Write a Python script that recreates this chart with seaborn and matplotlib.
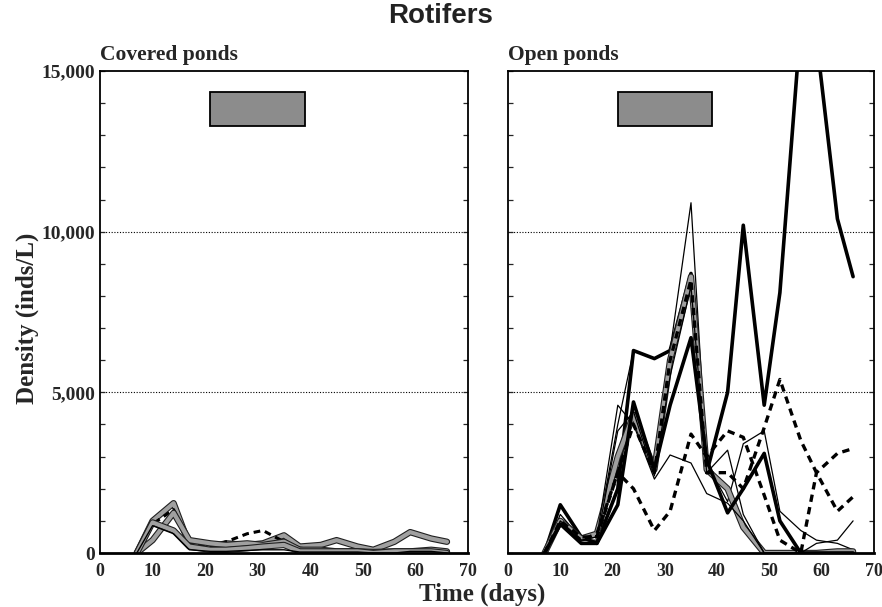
import matplotlib
matplotlib.use("Agg")
import matplotlib.pyplot as plt
import matplotlib.patheffects as pe
from matplotlib.patches import Rectangle
from matplotlib.ticker import MultipleLocator, FuncFormatter
import seaborn as sns
import pandas as pd

# ---------------- data ----------------
days = [7, 10, 14, 17, 21, 24, 28, 31, 35, 38, 42, 45, 49, 52, 56, 59, 63, 66]

# Covered ponds
cov_1 = [0, 1000, 1550, 250, 200, 300, 250, 300, 550, 200, 250, 400, 200, 100, 350, 650, 450, 350]
cov_2 = [0, 900, 1350, 300, 200, 350, 600, 700, 350, 150, 100, 50, 50, 0, 0, 0, 0, 0]
cov_3 = [0, 400, 1250, 400, 300, 250, 300, 250, 350, 100, 100, 50, 50, 30, 50, 50, 100, 50]
cov_4 = [0, 950, 700, 200, 100, 100, 150, 200, 250, 50, 50, 50, 50, 0, 50, 50, 50, 0]
cov_5 = [0, 850, 600, 100, 50, 50, 80, 100, 100, 30, 30, 30, 30, 0, 0, 50, 50, 0]

# Open ponds
open_1 = [0, 1500, 500, 300, 2000, 6300, 6050, 6300, 8700, 2500, 5000, 10200, 4600, 8100, 16500, 16000, 10400, 8600]
open_2 = [0, 1200, 450, 500, 4000, 6300, 6050, 6300, 10900, 2800, 1600, 3400, 3800, 1300, 700, 400, 300, 100]
open_3 = [0, 1000, 450, 600, 3000, 4300, 2600, 6000, 8600, 2600, 2000, 800, 0, 0, 0, 0, 50, 50]
open_4 = [0, 900, 300, 300, 1500, 4700, 2600, 4600, 6700, 2900, 1250, 2000, 3100, 1000, 0, 0, 0, 0]
open_5 = [0, 1000, 500, 500, 2500, 2000, 700, 1300, 3700, 3000, 3800, 3600, 1800, 400, 0, 2500, 3100, 3250]
open_6 = [0, 900, 400, 600, 2500, 4000, 2500, 6000, 8500, 2500, 2500, 2000, 3900, 5400, 3500, 2500, 1300, 1750]
open_7 = [0, 1000, 400, 500, 4600, 4000, 2300, 3050, 2800, 1850, 1550, 1000, 0, 0, 0, 0, 0, 0]
open_8 = [0, 900, 400, 400, 3800, 4400, 2400, 5500, 8300, 2500, 3200, 1200, 0, 0, 0, 300, 400, 1000]

covered = [cov_1, cov_2, cov_3, cov_4, cov_5]
opened = [open_1, open_2, open_3, open_4, open_5, open_6, open_7, open_8]

# style per series: (kind, linewidth, linestyle)
cov_styles = [("gray", 3.0, "-"), ("black", 2.2, "--"), ("gray", 3.0, "-"), ("gray", 3.0, "-"), ("black", 1.0, "-")]
open_styles = [("black", 2.6, "-"), ("black", 0.9, "-"), ("gray", 3.0, "-"), ("black", 2.6, "-"),
               ("black", 2.4, "--"), ("black", 2.4, "--"), ("black", 0.9, "-"), ("black", 0.9, "-")]

shade_x = [21, 39]
shade_y = [13300, 14350]

# ---------------- figure ----------------
sns.set_theme(style="white")
plt.rcParams["font.family"] = ["Liberation Serif", "DejaVu Serif"]

fig = plt.figure(figsize=(8.82, 6.07), dpi=100)
axL = fig.add_axes([100 / 882, 54 / 607, 368 / 882, 482 / 607])
axR = fig.add_axes([508 / 882, 54 / 607, 366 / 882, 482 / 607])


def draw(ax, series, styles):
    for vals, (col, lw, ls) in zip(series, styles):
        df = pd.DataFrame({"day": days, "density": vals})
        if col == "gray":
            sns.lineplot(data=df, x="day", y="density", ax=ax, color="#a0a0a0", lw=lw,
                         linestyle=ls,
                         path_effects=[pe.Stroke(linewidth=lw + 1.6, foreground="#202020"), pe.Normal()])
        else:
            line = sns.lineplot(data=df, x="day", y="density", ax=ax, color="black", lw=lw).lines[-1]
            if ls == "--":
                line.set_dashes([2.2, 1.6])


for ax, series, styles, title in [(axL, covered, cov_styles, "Covered ponds"),
                                   (axR, opened, open_styles, "Open ponds")]:
    draw(ax, series, styles)
    ax.set_xlim(0, 70)
    ax.set_ylim(0, 15000)
    ax.set_xlabel("")
    ax.set_ylabel("")
    for y in (5000, 10000):
        ax.axhline(y, color="black", lw=0.8, ls=(0, (1, 1.5)), zorder=0)
    ax.add_patch(Rectangle((shade_x[0], shade_y[0]), shade_x[1] - shade_x[0], shade_y[1] - shade_y[0],
                           facecolor="#8c8c8c", edgecolor="black", lw=1.3, zorder=3))
    ax.xaxis.set_major_locator(MultipleLocator(10))
    ax.yaxis.set_major_locator(MultipleLocator(5000))
    ax.yaxis.set_minor_locator(MultipleLocator(1000))
    ax.tick_params(axis="x", which="major", direction="in", length=7, width=1.2, top=False,
                   labelsize=13, pad=7)
    ax.tick_params(axis="y", which="both", direction="in", length=3.5, width=0.9, left=True, right=True,
                   labelsize=14)
    for s in ax.spines.values():
        s.set_color("black")
        s.set_linewidth(1.3)
    ax.spines["bottom"].set_linewidth(2.0)
    ax.text(0, 1.012, title, transform=ax.transAxes, ha="left", va="bottom",
            fontsize=15.5, fontweight="bold")

axL.yaxis.set_major_formatter(FuncFormatter(lambda v, p: f"{int(v):,}"))
axR.tick_params(axis="y", labelleft=False)
for lab in axL.get_yticklabels() + axL.get_xticklabels() + axR.get_xticklabels():
    lab.set_fontweight("bold")

fig.text(441 / 882, 1 - 16 / 607, "Rotifers", ha="center", va="center", fontsize=20,
         fontweight="bold", family=["Liberation Sans", "DejaVu Sans"], color="#222222")
fig.text(482 / 882, 1 - 594 / 607, "Time (days)", ha="center", va="center", fontsize=18,
         fontweight="bold")
fig.text(27 / 882, 1 - 318 / 607, "Density (inds/L)", ha="center", va="center", fontsize=18,
         fontweight="bold", rotation=90)

fig.savefig("out.png", dpi=100)
